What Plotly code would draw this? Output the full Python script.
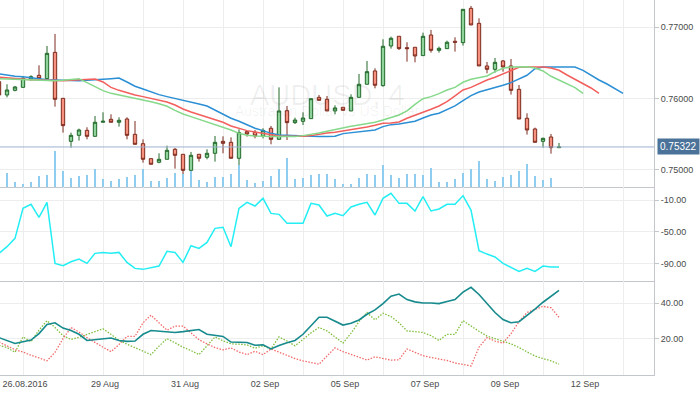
import plotly.graph_objects as go
from plotly.subplots import make_subplots

# ---------------- data (4H candles, index -1 .. 69) ----------------
opens = [0.76238, 0.76051, 0.76116, 0.76158, 0.76275, 0.76327, 0.76280, 0.76649, 0.76004, 0.75401,
         0.75485, 0.75555, 0.75471, 0.75668, 0.75710, 0.75668, 0.75714, 0.75499, 0.75368, 0.75158,
         0.75107, 0.75149, 0.75289, 0.75219, 0.74994, 0.75219, 0.75177, 0.75233, 0.75401, 0.75387,
         0.75163, 0.75537, 0.75527, 0.75476, 0.75584, 0.75429, 0.75831, 0.75663, 0.75682, 0.75719,
         0.76018, 0.75990, 0.75827, 0.75878, 0.75827, 0.76018, 0.76201, 0.76388, 0.76182, 0.76738,
         0.76874, 0.76715, 0.76720, 0.76603, 0.76892, 0.76677, 0.76701, 0.76804, 0.76785, 0.77266,
         0.77056, 0.76458, 0.76411, 0.76528, 0.76458, 0.76130, 0.75724, 0.75574, 0.75401, 0.75462,
         0.75312]
highs = [0.76245, 0.76201, 0.76177, 0.76317, 0.76327, 0.76467, 0.76738, 0.76907, 0.76004, 0.75523,
         0.75579, 0.75598, 0.75756, 0.75808, 0.75780, 0.75738, 0.75738, 0.75686, 0.75429, 0.75158,
         0.75233, 0.75340, 0.75308, 0.75219, 0.75252, 0.75219, 0.75289, 0.75476, 0.75471, 0.75457,
         0.75569, 0.75546, 0.75560, 0.75584, 0.75616, 0.76158, 0.75897, 0.75733, 0.75808, 0.75999,
         0.76051, 0.76037, 0.75906, 0.75878, 0.76060, 0.76346, 0.76528, 0.76425, 0.76832, 0.76869,
         0.76874, 0.76790, 0.76720, 0.76925, 0.76963, 0.76729, 0.76813, 0.76860, 0.77252, 0.77299,
         0.77126, 0.76514, 0.76570, 0.76542, 0.76556, 0.76191, 0.75794, 0.75593, 0.75453, 0.75504,
         0.75378]
lows = [0.76045, 0.76018, 0.76102, 0.76158, 0.76252, 0.76280, 0.76271, 0.75887, 0.75523, 0.75312,
        0.75411, 0.75429, 0.75471, 0.75668, 0.75668, 0.75607, 0.75429, 0.75359, 0.75102, 0.75079,
        0.75093, 0.75149, 0.75018, 0.74906, 0.74994, 0.75116, 0.75149, 0.75116, 0.75233, 0.75163,
        0.75060, 0.75467, 0.75443, 0.75443, 0.75359, 0.75429, 0.75420, 0.75644, 0.75630, 0.75719,
        0.75976, 0.75827, 0.75780, 0.75836, 0.75827, 0.76018, 0.76201, 0.76144, 0.76168, 0.76701,
        0.76682, 0.76518, 0.76509, 0.76603, 0.76645, 0.76645, 0.76701, 0.76659, 0.76743, 0.77033,
        0.76458, 0.76355, 0.76364, 0.76378, 0.76056, 0.75714, 0.75495, 0.75387, 0.75312, 0.75228,
        0.75312]
closes = [0.76051, 0.76121, 0.76163, 0.76285, 0.76308, 0.76280, 0.76635, 0.75990, 0.75621, 0.75485,
          0.75560, 0.75471, 0.75668, 0.75682, 0.75668, 0.75696, 0.75485, 0.75359, 0.75149, 0.75079,
          0.75149, 0.75275, 0.75205, 0.74994, 0.75205, 0.75163, 0.75233, 0.75387, 0.75373, 0.75163,
          0.75523, 0.75504, 0.75476, 0.75555, 0.75429, 0.75827, 0.75663, 0.75700, 0.75728, 0.75999,
          0.75976, 0.75827, 0.75869, 0.75836, 0.76018, 0.76201, 0.76378, 0.76187, 0.76734, 0.76846,
          0.76701, 0.76701, 0.76598, 0.76874, 0.76677, 0.76705, 0.76790, 0.76790, 0.77252, 0.77033,
          0.76458, 0.76411, 0.76509, 0.76444, 0.76116, 0.75714, 0.75560, 0.75387, 0.75443, 0.75312,
          0.75322]
volumes = [0, 4400, 1600, 1000, 1600, 3400, 3700, 10900, 4900, 2900,
           3400, 3700, 5500, 2400, 1900, 2400, 3000, 3700, 5500, 1900,
           1900, 2900, 4400, 3900, 4900, 2100, 1700, 3100, 3100, 4000,
           6600, 2100, 1400, 1900, 3400, 5500, 8800, 2400, 2900, 3600,
           4100, 4100, 2400, 1100, 1100, 2900, 3900, 3800, 6700, 3800,
           2900, 3900, 3900, 3800, 5900, 1600, 1600, 2500, 4300, 5500,
           7900, 2500, 1900, 3100, 3700, 4900, 7100, 3500, 2200, 2800,
           0]

# Alligator lines (jaw shifted 8, teeth shifted 5, lips shifted 3), start at index -1
jaw = [0.76346, 0.76327, 0.76313, 0.76308, 0.76299, 0.76280, 0.76266, 0.76261, 0.76261, 0.76257,
       0.76252, 0.76257, 0.76261, 0.76271, 0.76280, 0.76289,
       0.76233, 0.76173, 0.76135, 0.76093, 0.76056, 0.76028, 0.76004, 0.75981, 0.75953, 0.75925, 0.75897,
       0.75841, 0.75780, 0.75724, 0.75682, 0.75630, 0.75584, 0.75551, 0.75513, 0.75490, 0.75485,
       0.75476, 0.75471, 0.75467, 0.75467, 0.75467, 0.75471, 0.75509, 0.75523, 0.75532, 0.75546,
       0.75560, 0.75607, 0.75635, 0.75644, 0.75658, 0.75682, 0.75728, 0.75770, 0.75794, 0.75841,
       0.75897, 0.75971, 0.76042, 0.76093, 0.76121, 0.76149, 0.76187, 0.76224, 0.76271, 0.76327,
       0.76420, 0.76444, 0.76444, 0.76444, 0.76444, 0.76444, 0.76397, 0.76327, 0.76261, 0.76205,
       0.76140, 0.76074]
teeth = [0.76299, 0.76289, 0.76280, 0.76271, 0.76266, 0.76261, 0.76257, 0.76252, 0.76252, 0.76257,
         0.76261, 0.76266, 0.76275,
         0.76233, 0.76158, 0.76116, 0.76079, 0.76051, 0.76028, 0.76004, 0.75981, 0.75953, 0.75911,
         0.75855, 0.75813, 0.75775, 0.75738, 0.75705, 0.75668, 0.75616, 0.75579, 0.75551, 0.75532,
         0.75513, 0.75495, 0.75476, 0.75471, 0.75467, 0.75471, 0.75481, 0.75504, 0.75518, 0.75527,
         0.75546, 0.75560, 0.75574, 0.75602, 0.75626, 0.75654, 0.75658, 0.75672, 0.75724, 0.75766,
         0.75799, 0.75850, 0.75897, 0.75957, 0.76037, 0.76121, 0.76158, 0.76215, 0.76261, 0.76299,
         0.76346, 0.76402, 0.76439, 0.76444, 0.76444, 0.76444, 0.76430, 0.76397, 0.76331, 0.76271,
         0.76215, 0.76149, 0.76074]
lips = [0.76280, 0.76275, 0.76271, 0.76271, 0.76261, 0.76252, 0.76247, 0.76252, 0.76257, 0.76271,
        0.76280,
        0.76224, 0.76168, 0.76112, 0.76074, 0.76051, 0.76028, 0.76009, 0.75986, 0.75957, 0.75929,
        0.75892, 0.75836, 0.75784, 0.75747, 0.75710, 0.75677, 0.75644, 0.75607, 0.75560, 0.75513,
        0.75485, 0.75476, 0.75467, 0.75467, 0.75467, 0.75467, 0.75467, 0.75481, 0.75495, 0.75518,
        0.75541, 0.75565, 0.75598, 0.75612, 0.75630, 0.75649, 0.75668, 0.75700, 0.75733, 0.75770,
        0.75827, 0.75920, 0.75999, 0.76028, 0.76070, 0.76121, 0.76158, 0.76229, 0.76271, 0.76289,
        0.76317, 0.76378, 0.76425, 0.76444, 0.76448, 0.76448, 0.76430, 0.76388, 0.76313, 0.76261,
        0.76215, 0.76154, 0.76074]

# Williams %R
williams_r = [-77.0, -68.6, -58.2, -20.5, -15.4, -31.8, -12.9, -89.6, -92.5, -87.5,
              -84.1, -89.6, -77.0, -75.8, -77.0, -75.8, -88.3, -95.9, -97.1, -95.4,
              -92.9, -74.5, -75.8, -88.3, -67.4, -70.7, -63.2, -45.6, -44.3, -68.6,
              -20.5, -12.9, -17.5, -7.9, -26.8, -28.0, -39.3, -39.3, -39.3, -14.2,
              -16.3, -30.1, -26.8, -29.7, -18.8, -15.4, -12.9, -28.8, -7.9, -1.6,
              -14.2, -14.2, -23.8, -5.8, -23.8, -21.3, -15.4, -15.4, -4.6, -22.6,
              -73.7, -77.9, -81.6, -89.6, -95.0, -99.6, -95.9, -99.6, -92.9, -94.2,
              -94.2]

# DMI
adx = [20.6, 19.0, 17.3, 18.3, 19.2, 22.9, 28.1, 29.0, 26.0, 24.6,
       22.5, 19.0, 19.6, 20.2, 20.4, 19.0, 18.5, 18.7, 22.5, 24.6,
       24.2, 23.8, 23.5, 24.0, 24.6, 25.2, 22.5, 21.9, 21.3, 18.1,
       18.1, 17.9, 16.3, 16.5, 14.2, 16.2, 17.7, 19.0, 22.5, 27.1,
       32.1, 32.1, 29.8, 27.7, 28.7, 30.6, 33.8, 36.3, 39.8, 44.0,
       45.2, 42.1, 40.8, 40.2, 40.2, 39.8, 41.0, 42.1, 46.3, 49.0,
       45.0, 40.0, 34.8, 30.8, 29.0, 29.6, 32.9, 36.7, 40.6, 43.7,
       47.3]
plus_di = [16.2, 15.0, 12.3, 21.0, 18.3, 24.8, 30.2, 26.3, 21.7, 19.6,
           20.8, 22.5, 24.2, 25.6, 22.5, 19.0, 16.9, 14.8, 12.9, 11.0,
           15.8, 20.0, 17.7, 15.2, 13.3, 11.0, 16.0, 21.0, 18.8, 17.1,
           16.9, 16.5, 14.6, 16.0, 14.2, 21.0, 18.7, 16.0, 19.6, 23.3,
           26.3, 24.4, 21.0, 17.5, 23.1, 29.6, 34.8, 30.6, 34.4, 32.5,
           29.0, 24.4, 24.0, 23.5, 21.7, 19.0, 22.5, 22.5, 30.2, 27.1,
           24.2, 21.5, 20.0, 18.7, 17.1, 15.0, 12.7, 10.2, 8.8, 7.5,
           5.6]
minus_di = [18.1, 16.0, 13.8, 12.5, 10.6, 9.2, 7.5, 12.3, 20.0, 26.3,
            23.8, 20.6, 17.7, 15.2, 12.7, 16.7, 21.3, 21.3, 29.0, 33.3,
            29.0, 24.8, 27.1, 27.1, 23.3, 19.4, 17.1, 15.0, 13.7, 14.8,
            12.5, 11.0, 12.9, 11.0, 14.2, 12.3, 10.4, 8.8, 7.5, 6.5,
            5.6, 10.2, 14.8, 12.7, 11.2, 9.4, 7.9, 9.8, 8.8, 7.9,
            8.1, 14.2, 12.3, 10.4, 9.4, 8.5, 7.7, 6.3, 5.6, 4.6,
            15.2, 20.6, 18.7, 17.5, 22.9, 29.6, 34.8, 36.7, 38.3, 37.5,
            32.1]

last_price = 0.75322

# x-axis labels (candle index -> label)
label_index = [2, 12, 22, 32, 42, 52, 62, 72]
label_text = ["26.08.2016", "29 Aug", "31 Aug", "02 Sep", "05 Sep", "07 Sep", "09 Sep", "12 Sep"]
grid_index = list(range(2, 81, 5))

price_ticks = [0.75, 0.76, 0.77]
wr_ticks = [-10, -50, -90]
dmi_ticks = [20, 40]

# ---------------- figure ----------------
idx = list(range(-1, -1 + len(closes)))
x_jaw = list(range(-1, -1 + len(jaw)))
x_teeth = list(range(-1, -1 + len(teeth)))
x_lips = list(range(-1, -1 + len(lips)))

fig = make_subplots(rows=3, cols=1, shared_xaxes=True, vertical_spacing=0,
                    row_heights=[0.4995, 0.2498, 0.2507])

# volume on an overlay axis of the price panel
fig.add_trace(go.Bar(x=idx, y=volumes, width=0.18, xaxis="x", yaxis="y4",
                     marker=dict(color="#8fcdf0", line=dict(width=0)),
                     showlegend=False, hoverinfo="skip"))

fig.add_trace(go.Scatter(x=x_jaw, y=jaw, mode="lines", line=dict(color="#2b8fd5", width=1.5),
                         showlegend=False, hoverinfo="skip"), row=1, col=1)
fig.add_trace(go.Scatter(x=x_teeth, y=teeth, mode="lines", line=dict(color="#f25f5c", width=1.5),
                         showlegend=False, hoverinfo="skip"), row=1, col=1)
fig.add_trace(go.Scatter(x=x_lips, y=lips, mode="lines", line=dict(color="#86d98a", width=1.5),
                         showlegend=False, hoverinfo="skip"), row=1, col=1)

fig.add_trace(go.Candlestick(x=idx, open=opens, high=highs, low=lows, close=closes,
                             increasing=dict(fillcolor="#8fd39c", line=dict(color="#22682a", width=1)),
                             decreasing=dict(fillcolor="#f7917f", line=dict(color="#7d2b1e", width=1)),
                             whiskerwidth=0, showlegend=False, hoverinfo="skip"),
              row=1, col=1)

fig.add_trace(go.Scatter(x=idx, y=williams_r, mode="lines", line=dict(color="#23eef4", width=1.5),
                         showlegend=False, hoverinfo="skip"), row=2, col=1)

fig.add_trace(go.Scatter(x=idx, y=plus_di, mode="lines",
                         line=dict(color="#7fbf3d", width=1.3, dash="1.5px,1.5px"),
                         showlegend=False, hoverinfo="skip"), row=3, col=1)
fig.add_trace(go.Scatter(x=idx, y=minus_di, mode="lines",
                         line=dict(color="#f26a6a", width=1.3, dash="1.5px,1.5px"),
                         showlegend=False, hoverinfo="skip"), row=3, col=1)
fig.add_trace(go.Scatter(x=idx, y=adx, mode="lines", line=dict(color="#168a8c", width=1.6),
                         showlegend=False, hoverinfo="skip"), row=3, col=1)

GRID = "#ededed"
AXIS = "#c3c6ca"
FONT = dict(family="Liberation Sans, Arial, sans-serif", size=9, color="#4a4a4a")

grid_text = [label_text[label_index.index(g)] if g in label_index else "" for g in grid_index]

fig.update_xaxes(domain=[0, 1], range=[-0.875, 80.875], autorange=False, tickmode="array",
                 tickvals=grid_index, ticktext=grid_text,
                 showgrid=True, gridcolor=GRID, gridwidth=1, zeroline=False,
                 showline=True, linecolor=AXIS, linewidth=1, ticks="", tickfont=FONT,
                 fixedrange=True, rangeslider=dict(visible=False))
fig.update_xaxes(showticklabels=False, row=1, col=1)
fig.update_xaxes(showticklabels=False, row=2, col=1)
fig.update_xaxes(showticklabels=True, ticklabelshift=2, row=3, col=1)

common_y = dict(side="right", showgrid=True, gridcolor=GRID, zeroline=False, showline=True,
                linecolor=AXIS, linewidth=1, ticks="outside", ticklen=4, tickcolor=AXIS,
                tickfont=FONT, fixedrange=True)

fig.update_layout(
    yaxis=dict(range=[0.74756, 0.77383], tickmode="array", tickvals=price_ticks,
               ticktext=[f"{v:.5f}" for v in price_ticks], **common_y),
    yaxis2=dict(range=[-111.7, 5.95], tickmode="array", tickvals=wr_ticks,
                ticktext=[f"-{abs(v):.2f}" for v in wr_ticks], **common_y),
    yaxis3=dict(range=[-0.5, 52.6], tickmode="array", tickvals=dmi_ticks,
                ticktext=[f"{v:.2f}" for v in dmi_ticks], **common_y),
    yaxis4=dict(range=[0, 56100], overlaying="y", anchor="x", visible=False,
                showgrid=False, fixedrange=True),
)

# last price line and label
fig.add_shape(type="line", xref="x domain", yref="y", x0=0, x1=1, y0=last_price, y1=last_price,
              line=dict(color="#9db1cf", width=1))
fig.add_annotation(x=1, xref="paper", xanchor="left", xshift=3, y=last_price, yref="y",
                   text=f"{last_price:.5f}", showarrow=False, bgcolor="#4b7299", borderpad=2,
                   font=dict(family="Liberation Sans, Arial, sans-serif", size=10, color="white"))

# watermark
fig.add_annotation(x=0.5, xref="paper", y=0.795, yref="paper", text="AUDUSD, 4", showarrow=False,
                   font=dict(family="Liberation Sans, Arial, sans-serif", size=29, color="rgba(0,0,0,0.06)"))
fig.add_annotation(x=0.5, xref="paper", y=0.731, yref="paper", text="Australian Dollar vs US Dollar",
                   showarrow=False,
                   font=dict(family="Liberation Sans, Arial, sans-serif", size=14, color="rgba(0,0,0,0.06)"))

fig.update_layout(width=700, height=394, margin=dict(l=0, r=46, t=0, b=19, autoexpand=False),
                  paper_bgcolor="white", plot_bgcolor="white", hovermode=False, boxgap=0.4,
                  showlegend=False, bargap=0)

fig.write_html("out.html", config={"displayModeBar": False},
               post_script="document.body.style.margin='0';document.body.style.overflow='hidden';")
